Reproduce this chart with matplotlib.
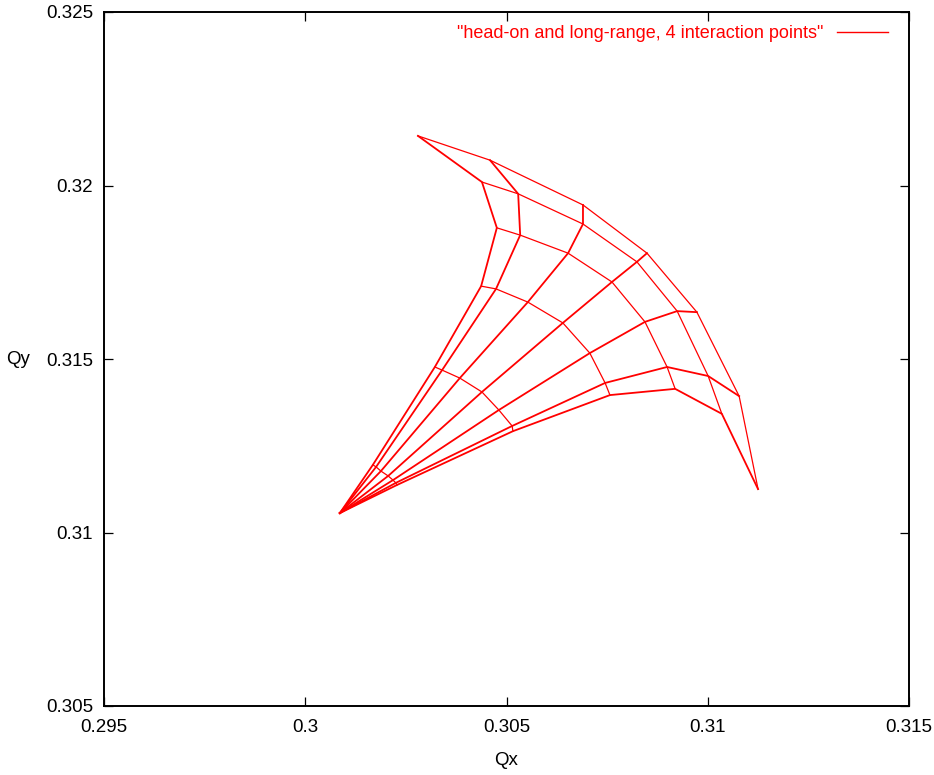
import matplotlib
matplotlib.use("Agg")
import matplotlib.pyplot as plt

plt.rcParams['font.family'] = ['Liberation Sans', 'DejaVu Sans']

# detuning footprint: tune at zero amplitude, then one ring per amplitude step,
# seven angles per ring (ray 1 = mostly vertical, ray 7 = mostly horizontal)
qx0 = 0.30086
qy0 = 0.31056

qx_rings = [
    [0.30168, 0.30176, 0.30188, 0.30206, 0.30218, 0.30225, 0.30228],
    [0.30322, 0.30340, 0.30384, 0.30439, 0.30481, 0.30514, 0.30516],
    [0.30437, 0.30474, 0.30553, 0.30640, 0.30707, 0.30745, 0.30757],
    [0.30476, 0.30534, 0.30653, 0.30762, 0.30844, 0.30899, 0.30919],
    [0.30439, 0.30529, 0.30690, 0.30824, 0.30924, 0.31001, 0.31035],
    [0.30280, 0.30459, 0.30690, 0.30849, 0.30973, 0.31078, 0.31125],
]
qy_rings = [
    [0.31195, 0.31189, 0.31177, 0.31163, 0.31151, 0.31143, 0.31137],
    [0.31477, 0.31468, 0.31445, 0.31405, 0.31353, 0.31307, 0.31292],
    [0.31710, 0.31702, 0.31664, 0.31604, 0.31517, 0.31431, 0.31396],
    [0.31878, 0.31857, 0.31805, 0.31722, 0.31607, 0.31477, 0.31414],
    [0.32010, 0.31976, 0.31889, 0.31780, 0.31638, 0.31451, 0.31342],
    [0.32143, 0.32073, 0.31944, 0.31805, 0.31635, 0.31393, 0.31125],
]

xticks = [0.295, 0.3, 0.305, 0.31, 0.315]
xticklabels = ['0.295', '0.3', '0.305', '0.31', '0.315']
yticks = [0.305, 0.31, 0.315, 0.32, 0.325]
yticklabels = ['0.305', '0.31', '0.315', '0.32', '0.325']

label = '"head-on and long-range, 4 interaction points"'
col = '#ff0000'

fig = plt.figure(figsize=(9.34, 7.75), dpi=100)
ax = fig.add_axes([104 / 934, 69 / 775, 805 / 934, 694 / 775])

n_rays = len(qx_rings[0])

# rays from the zero-amplitude tune outwards
for j in range(n_rays):
    xs = [qx0] + [r[j] for r in qx_rings]
    ys = [qy0] + [r[j] for r in qy_rings]
    ax.plot(xs, ys, color=col, lw=1.3, solid_joinstyle='miter')

# rings of constant amplitude
for xs, ys in zip(qx_rings, qy_rings):
    ax.plot(xs, ys, color=col, lw=0.9)

ax.set_xlim(0.295, 0.315)
ax.set_ylim(0.305, 0.325)
ax.set_xticks(xticks)
ax.set_xticklabels(xticklabels)
ax.set_yticks(yticks)
ax.set_yticklabels(yticklabels)
ax.tick_params(direction='in', length=6.5, width=0.9, labelsize=13.5,
               top=True, right=True, color='black')
ax.tick_params(axis='x', pad=9)
ax.tick_params(axis='y', pad=8)
for s in ax.spines.values():
    s.set_linewidth(1.4)

ax.set_xlabel('Qx', fontsize=13.5)
ax.xaxis.set_label_coords(0.5, -0.067)
ax.set_ylabel('Qy', fontsize=13.5, rotation=0, va='center', ha='center')
ax.yaxis.set_label_coords(-0.107, 0.5)

handle = plt.Line2D([], [], color=col, lw=1.0)
ax.legend([handle], [label], loc='upper right', frameon=False,
          markerfirst=False, labelcolor=col, fontsize=13,
          handlelength=2.85, handletextpad=0.75, borderpad=0,
          borderaxespad=0, bbox_to_anchor=((888 - 104) / 805, (706 - 25) / 694))

fig.savefig('out.png', dpi=100)
